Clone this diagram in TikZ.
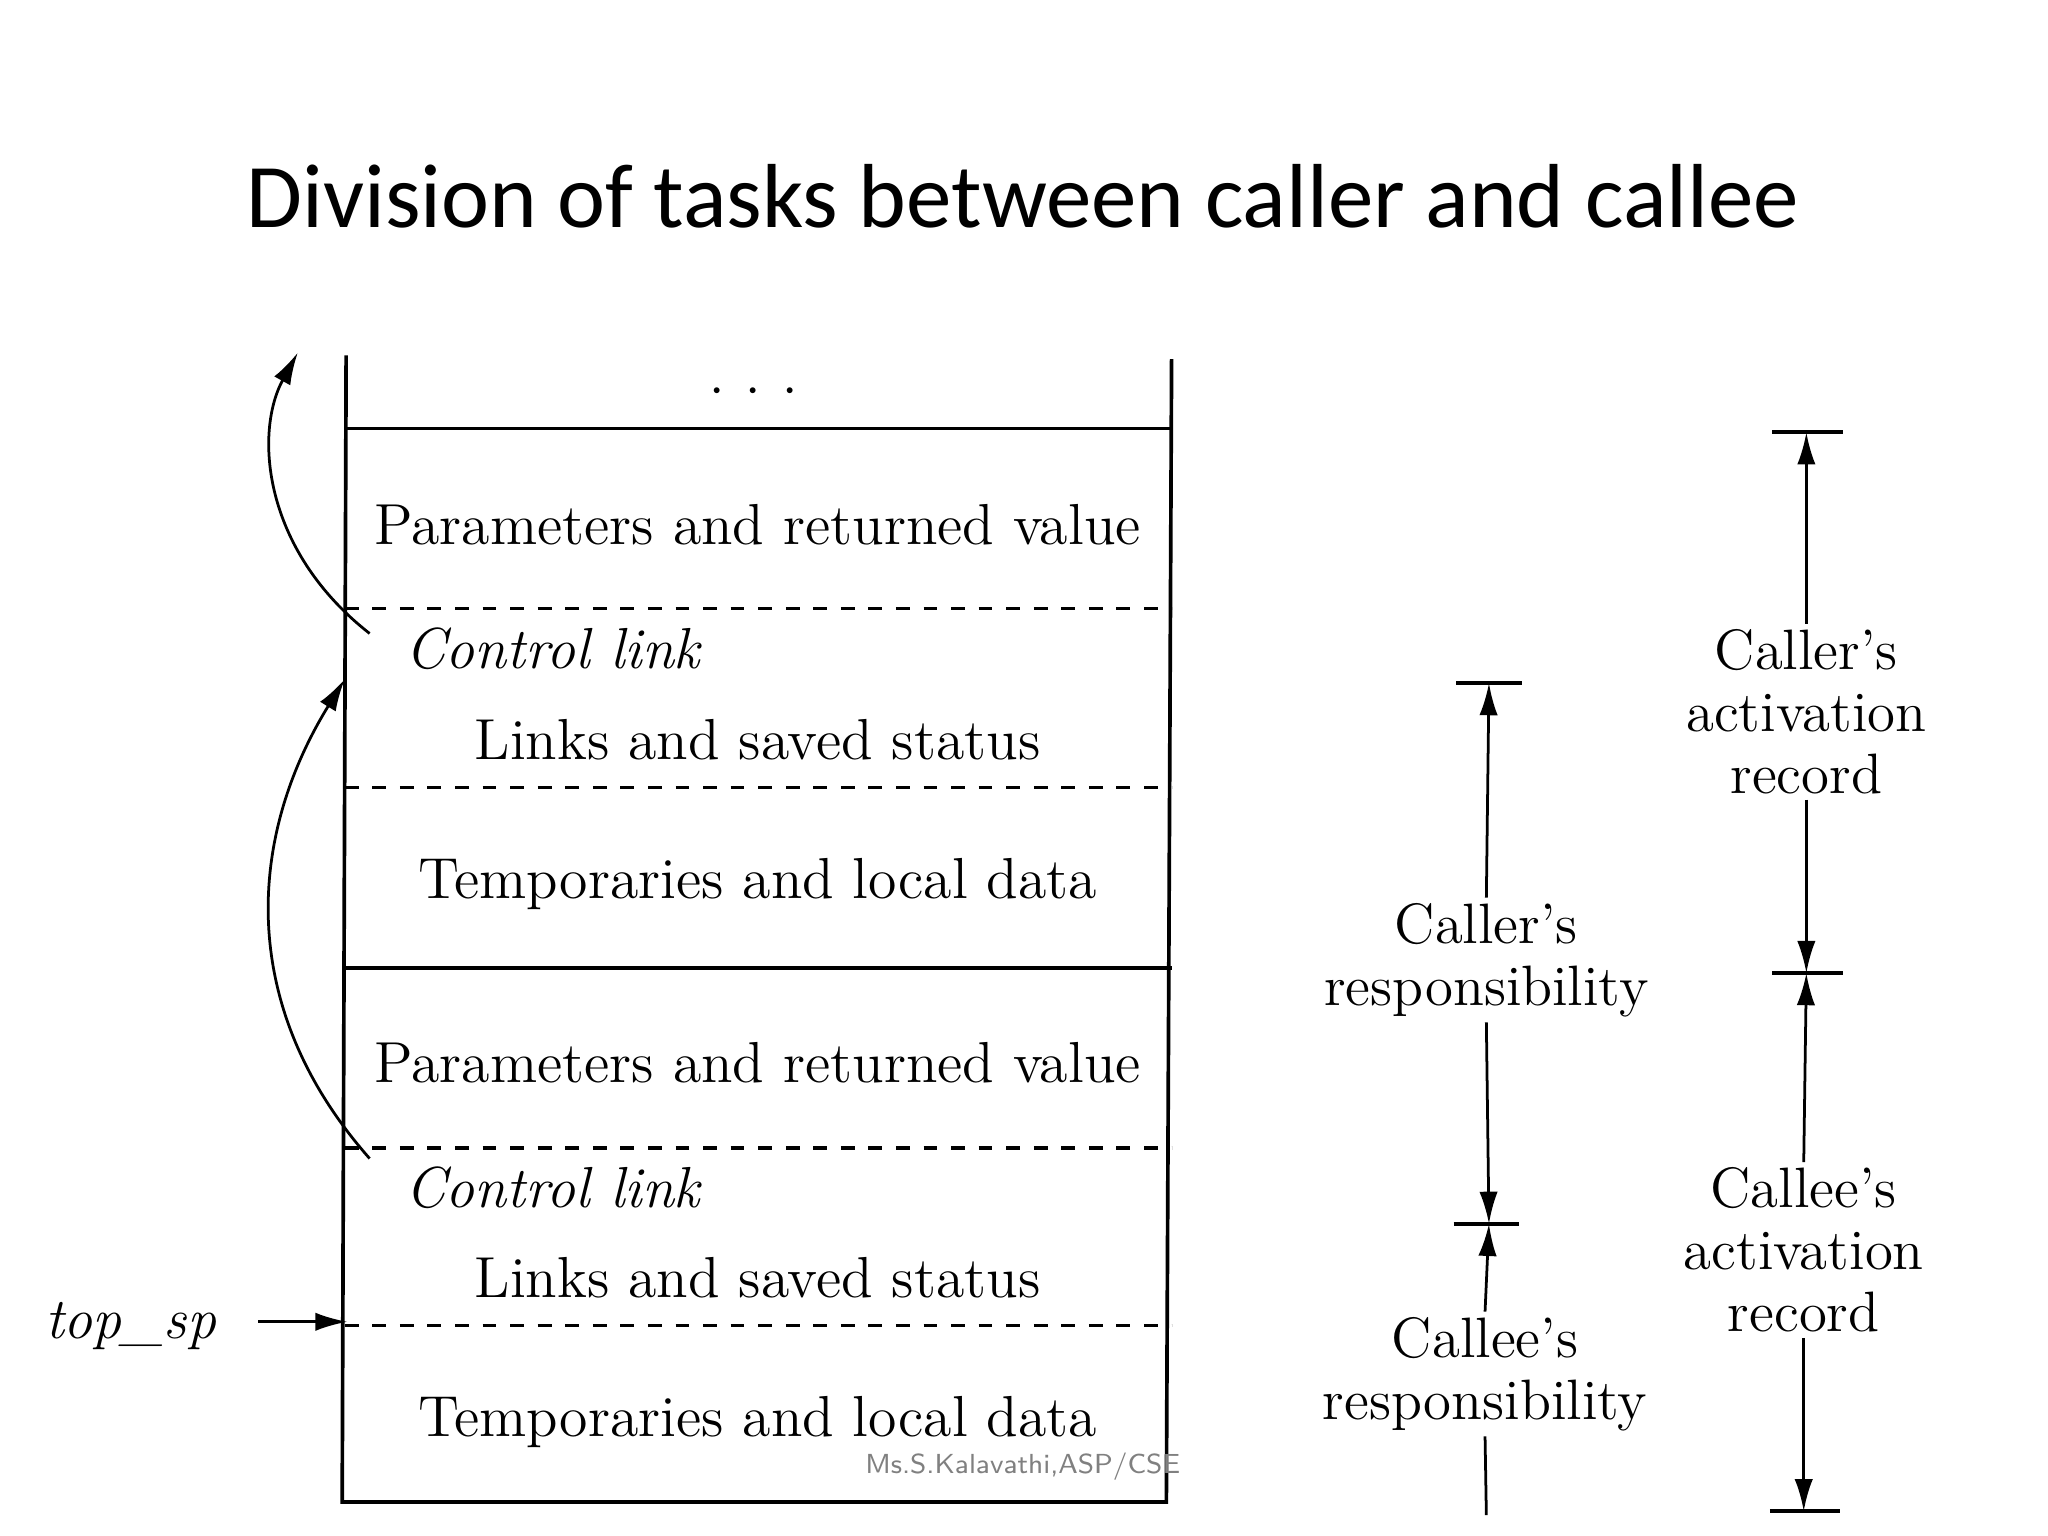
\documentclass[tikz,border=0pt]{standalone}
\usepackage{fontspec}
\newfontfamily\titlefont{Carlito}
\usetikzlibrary{arrows.meta}
\begin{document}
\begin{tikzpicture}[x=0.01cm,y=-0.01cm,
  lbl/.style={font=\fontsize{12.6}{14}\selectfont},
  dlbl/.style={font=\fontsize{12.4}{13.5}\selectfont,align=center,fill=white,inner sep=1pt},
  arr/.style={-{Latex[length=7pt,width=4pt]},line width=0.6pt},
  bar/.style={line width=0.8pt}]
\useasboundingbox (0,0) rectangle (1568,1176);
\node[font=\titlefont\fontsize{19.8}{22}\selectfont] (title) at (783,150) {Division of tasks between caller and callee};
% stack
\draw[line width=0.8pt] (265,272) -- (262,1150) -- (893,1150) -- (897,275);
\foreach \y in {328,741} \draw[line width=0.8pt] (265,\y) -- (897,\y);
\foreach \y in {466,603,879,1015} \draw[dashed,line width=0.7pt] (264,\y) -- (897,\y);
\node[lbl] (dots) at (577,300) {$\cdot\,\cdot\,\cdot$};
\foreach \o/\n in {0/a,412/b}{
  \node[lbl] (p\n) at (580,402+\o) {Parameters and returned value};
  \node[lbl,anchor=west,font=\fontsize{12.6}{14}\selectfont\itshape] (c\n) at (298,497+\o) {Control link};
  \node[lbl] (l\n) at (580,566+\o) {Links and saved status};
  \node[lbl] (t\n) at (580,677+\o) {Temporaries and local data};
}
\coordinate (topA) at (228,270);
\coordinate (linkA) at (264,520);
\draw[arr] (ca.west) ++(-15,-12) .. controls (200,420) and (195,330) .. (topA);
\draw[arr] (cb.west) ++(-15,-22) .. controls (180,770) and (190,640) .. (linkA);
\node[lbl,font=\fontsize{12.6}{14}\selectfont\itshape] (sp) at (100,1015) {top\_sp};
\coordinate (spT) at (266,1012);
\draw[arr] (sp.east) ++(20,-3) -- (spT);
% responsibilities
\draw[bar] (1115,523) -- (1165,523);
\draw[bar] (1113,937) -- (1163,937);
\node[dlbl] (crr) at (1138,735) {Caller's\\responsibility};
\node[dlbl] (cer) at (1137,1052) {Callee's\\responsibility};
\coordinate (r1) at (1140,523); \coordinate (r2) at (1140,937); \coordinate (r3) at (1138,1160);
\draw[arr] (crr.north) -- (r1);
\draw[arr] (crr.south) -- (r2);
\draw[arr] (cer.north) -- (r2);
\draw[line width=0.6pt] (cer.south) -- (r3);
% activation records
\draw[bar] (1357,331) -- (1411,331);
\draw[bar] (1357,745) -- (1411,745);
\draw[bar] (1355,1157) -- (1409,1157);
\node[dlbl] (car) at (1383,545) {Caller's\\activation\\record};
\node[dlbl] (cear) at (1381,957) {Callee's\\activation\\record};
\coordinate (a1) at (1383,331); \coordinate (a2) at (1383,745); \coordinate (a3) at (1381,1157);
\draw[arr] (car.north) -- (a1);
\draw[arr] (car.south) -- (a2);
\draw[arr] (cear.north) -- (a2);
\draw[arr] (cear.south) -- (a3);
\node[font=\sffamily\fontsize{6}{7}\selectfont,text=gray] (foot) at (783,1123) {Ms.S.Kalavathi,ASP/CSE};
\end{tikzpicture}
\end{document}
